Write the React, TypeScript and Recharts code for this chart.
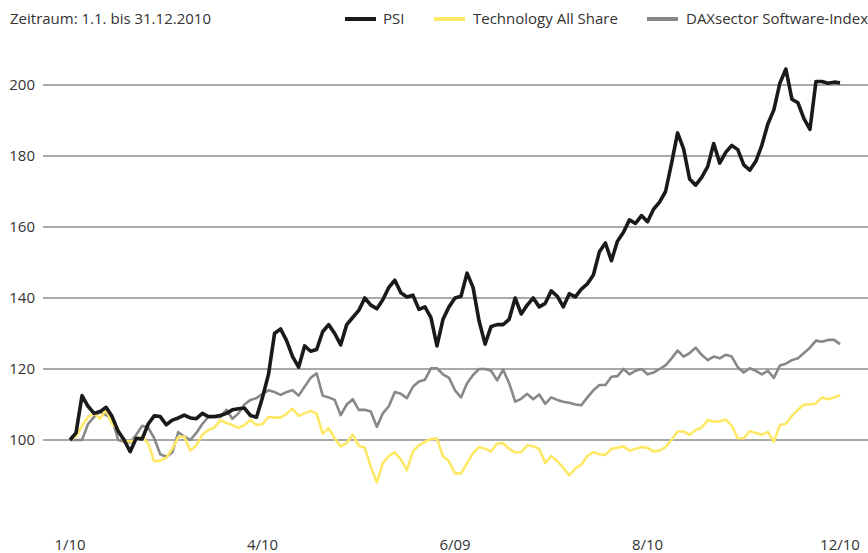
import React from "react";
import { LineChart, Line, XAxis, YAxis, ReferenceLine } from "recharts";

const TICK_POS = [0, 32, 64, 96, 128];
const TICK_LABELS = ["1/10", "4/10", "6/09", "8/10", "12/10"];
const Y_TICKS = [100, 120, 140, 160, 180, 200];

const PSI = [
  100, 102, 112.5, 109.5, 107.5, 108, 109.2, 106.6, 102.5, 100, 96.7, 100.5, 100.3, 104.5, 106.8, 106.6,
  104.3, 105.6, 106.2, 107, 106.2, 106, 107.5, 106.6, 106.6, 106.9, 107.5, 108.5, 108.8, 109, 106.9, 106.4,
  112, 118.5, 130, 131.3, 128, 123.5, 120.5, 126.5, 125, 125.5, 130.5, 132.5, 130, 126.8, 132.5, 134.5,
  136.5, 140, 138, 137, 139.5, 143, 145, 141.5, 140.3, 140.8, 136.8, 137.5, 134.5, 126.5, 134, 137.5,
  140, 140.5, 147, 143, 133.5, 127, 132, 132.5, 132.5, 134, 140, 135.5, 138, 140, 137.5, 138.5,
  142, 140.5, 137.5, 141.2, 140.3, 142.5, 144, 146.5, 153, 155.5, 150.5, 156, 158.5, 162, 161, 163.2,
  161.5, 165, 167, 170, 178, 186.5, 182, 173.5, 171.8, 174, 177, 183.5, 178, 181, 183, 181.8,
  177.5, 176, 178.5, 183, 189, 193, 200.5, 204.5, 196, 195, 190.5, 187.5, 201, 201, 200.5, 200.8,
  200.6,
];

const TECH = [
  100, 101, 104, 106.5, 107.5, 106, 108.5, 104.5, 103, 99.5, 99.6, 100, 101, 99, 94, 94.2,
  95, 97.5, 100.8, 101, 97, 98.5, 101.5, 102.8, 103.5, 105.6, 104.8, 104.2, 103.4, 104.2, 105.6, 104.2,
  104.5, 106.5, 106.3, 106.3, 107.4, 108.8, 106.8, 107.5, 108.2, 107.4, 101.8, 103.3, 100.5, 98.2, 99.2, 101.5,
  98.4, 97.8, 92.5, 88, 93.5, 95.5, 96.5, 94.5, 91.5, 96.8, 98.5, 99.5, 100.3, 100.4, 95.4, 94,
  90.6, 90.6, 93.5, 96.3, 98, 97.5, 96.8, 99, 99.1, 97.5, 96.5, 96.6, 98.5, 98.2, 97.5, 93.5,
  95.5, 94, 92.2, 90, 92, 93, 95.5, 96.6, 96, 95.8, 97.5, 97.8, 98.2, 97, 97.5, 98,
  97.8, 96.8, 97, 98, 100, 102.4, 102.4, 101.5, 102.8, 103.5, 105.6, 105.2, 105.2, 105.8, 104, 100.5,
  100.5, 102.5, 102, 101.5, 102.3, 99.5, 104.2, 104.6, 106.8, 108.5, 110, 110, 110.3, 112, 111.5, 112,
  112.6,
];

const DAX = [
  100, 100, 100, 104.5, 106.5, 108, 107, 106, 100, 99.5, 99.3, 101.5, 104, 103.5, 100.5, 96,
  95.3, 96.5, 102.2, 101, 100, 102, 104.5, 106.5, 106.4, 106.5, 108.5, 106, 107.5, 110, 111.3, 111.8,
  113, 114, 113.5, 112.7, 113.5, 114, 112.5, 115, 117.5, 118.8, 112.5, 112, 111.3, 107, 110, 111.5,
  108.5, 108.5, 108, 103.7, 107.5, 109.5, 113.5, 113, 111.8, 115, 116.5, 117, 120.2, 120.2, 118.5, 117.5,
  114, 112, 116, 118.3, 120, 120, 119.5, 116.8, 119.8, 116, 110.8, 111.6, 113, 111.5, 112.8, 110.2,
  112, 111.3, 110.8, 110.5, 110, 109.8, 112, 114, 115.5, 115.5, 117.8, 118, 120, 118.5, 119.5, 120,
  118.5, 119, 120, 121, 123, 125.2, 123.5, 124.5, 126, 124, 122.5, 123.5, 123, 124, 123.5, 120.5,
  119, 120.2, 119.5, 118.5, 119.5, 117.5, 121, 121.5, 122.5, 123, 124.5, 126, 128, 127.7, 128.2, 128.2,
  127,
];

const data = PSI.map((v, i) => ({ i, psi: v, tech: TECH[i], dax: DAX[i] }));

const FONT = "'Open Sans', sans-serif";
const TEXT_COLOR = "#333333";

const XTick = (props: any) => {
  const { x, payload } = props;
  const idx = TICK_POS.indexOf(payload.value);
  return (
    <text x={x} y={550} textAnchor="middle" fontFamily={FONT} fontSize={15} fill={TEXT_COLOR}>
      {TICK_LABELS[idx]}
    </text>
  );
};

const YTick = (props: any) => {
  const { y, payload } = props;
  return (
    <text x={35} y={y + 5} textAnchor="end" fontFamily={FONT} fontSize={15} fill={TEXT_COLOR}>
      {payload.value}
    </text>
  );
};

const legendItems = [
  { label: "PSI", color: "#1a1a1a", lineX: 345, textX: 383 },
  { label: "Technology All Share", color: "#ffe866", lineX: 434, textX: 473 },
  { label: "DAXsector Software-Index", color: "#888888", lineX: 647, textX: 686 },
];

export default function App() {
  return (
    <div style={{ position: "absolute", left: 0, top: 0, width: 868, height: 553, background: "#fff", fontFamily: FONT }}>
      <div style={{ position: "absolute", left: 10, top: 8, fontSize: 15, color: TEXT_COLOR, lineHeight: "20px", whiteSpace: "nowrap" }}>
        Zeitraum: 1.1. bis 31.12.2010
      </div>
      {legendItems.map((it) => (
        <React.Fragment key={it.label}>
          <div style={{ position: "absolute", left: it.lineX, top: 17, width: 31, height: 4, background: it.color }} />
          <div style={{ position: "absolute", left: it.textX, top: 8, fontSize: 15, color: TEXT_COLOR, lineHeight: "20px", whiteSpace: "nowrap" }}>
            {it.label}
          </div>
        </React.Fragment>
      ))}
      <div style={{ position: "absolute", left: 0, top: 0 }}>
        <LineChart width={868} height={553} data={data} margin={{ top: 49.5, right: 0, bottom: 0, left: 0 }}>
          <XAxis
            dataKey="i"
            type="number"
            domain={[-4.488, 132.65]}
            allowDataOverflow
            ticks={TICK_POS}
            tick={<XTick />}
            axisLine={false}
            tickLine={false}
            height={42}
            interval={0}
          />
          <YAxis
            type="number"
            domain={[80, 210]}
            allowDataOverflow
            ticks={Y_TICKS}
            tick={<YTick />}
            axisLine={false}
            tickLine={false}
            width={43}
            interval={0}
          />
          {Y_TICKS.map((t) => (
            <ReferenceLine key={t} y={t} stroke="#8c8c8c" strokeWidth={1.4} />
          ))}
          <Line type="linear" dataKey="dax" stroke="#888888" strokeWidth={2.6} dot={false} isAnimationActive={false} strokeLinejoin="round" />
          <Line type="linear" dataKey="tech" stroke="#ffe866" strokeWidth={2.6} dot={false} isAnimationActive={false} strokeLinejoin="round" />
          <Line type="linear" dataKey="psi" stroke="#1a1a1a" strokeWidth={3.6} dot={false} isAnimationActive={false} strokeLinejoin="round" />
        </LineChart>
      </div>
    </div>
  );
}
